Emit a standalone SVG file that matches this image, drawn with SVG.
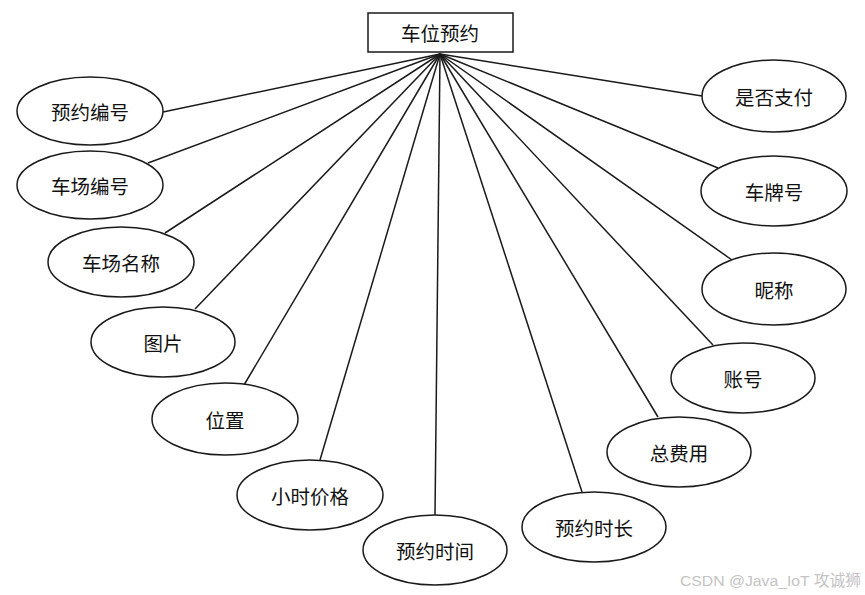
<svg xmlns="http://www.w3.org/2000/svg" width="865" height="595" viewBox="0 0 865 595">
<style>
.n{fill:#fff;stroke:#1a1a1a;stroke-width:1.5}
.t{font-family:"Noto Sans CJK SC","Noto Sans",sans-serif;font-size:19.5px;fill:#111;text-anchor:middle;dominant-baseline:central}
.c line{stroke:#1a1a1a;stroke-width:1.5}
.w{font-family:"Liberation Sans","Noto Sans CJK SC",sans-serif;font-size:15.5px;fill:#c4c4c4}
</style>
<rect width="865" height="595" fill="#fff"/>
<g class="c" id="connectors">
<line x1="440" y1="54" x2="163" y2="112"/>
<line x1="440" y1="54" x2="148" y2="163"/>
<line x1="440" y1="54" x2="165" y2="233"/>
<line x1="440" y1="54" x2="195" y2="309"/>
<line x1="440" y1="54" x2="244" y2="385"/>
<line x1="440" y1="54" x2="320" y2="460"/>
<line x1="440" y1="54" x2="435" y2="515"/>
<line x1="440" y1="54" x2="582" y2="492"/>
<line x1="440" y1="54" x2="658" y2="417"/>
<line x1="440" y1="54" x2="713" y2="345"/>
<line x1="440" y1="54" x2="732" y2="260"/>
<line x1="440" y1="54" x2="718" y2="168"/>
<line x1="440" y1="54" x2="702" y2="96"/>
</g>
<g id="entity"><rect class="n" x="368" y="13" width="145" height="39"/><text class="t" x="440" y="32">车位预约</text></g>
<g id="a1"><ellipse class="n" cx="90" cy="111" rx="73" ry="34"/><text class="t" x="90" y="111">预约编号</text></g>
<g id="a2"><ellipse class="n" cx="90" cy="185" rx="73" ry="34"/><text class="t" x="90" y="185">车场编号</text></g>
<g id="a3"><ellipse class="n" cx="121" cy="262" rx="73" ry="35"/><text class="t" x="121" y="262">车场名称</text></g>
<g id="a4"><ellipse class="n" cx="163" cy="342" rx="72" ry="35"/><text class="t" x="163" y="342">图片</text></g>
<g id="a5"><ellipse class="n" cx="225" cy="419" rx="73" ry="36"/><text class="t" x="225" y="419">位置</text></g>
<g id="a6"><ellipse class="n" cx="310" cy="495" rx="73" ry="35"/><text class="t" x="310" y="495">小时价格</text></g>
<g id="a7"><ellipse class="n" cx="435" cy="550" rx="72" ry="35"/><text class="t" x="435" y="550">预约时间</text></g>
<g id="a8"><ellipse class="n" cx="594" cy="527" rx="72" ry="35"/><text class="t" x="594" y="527">预约时长</text></g>
<g id="a9"><ellipse class="n" cx="679" cy="452" rx="72" ry="35"/><text class="t" x="679" y="452">总费用</text></g>
<g id="a10"><ellipse class="n" cx="743" cy="378" rx="72" ry="35"/><text class="t" x="743" y="378">账号</text></g>
<g id="a11"><ellipse class="n" cx="774" cy="289" rx="72" ry="36"/><text class="t" x="774" y="289">昵称</text></g>
<g id="a12"><ellipse class="n" cx="774" cy="191" rx="73" ry="35"/><text class="t" x="774" y="191">车牌号</text></g>
<g id="a13"><ellipse class="n" cx="774" cy="96" rx="72" ry="36"/><text class="t" x="774" y="96">是否支付</text></g>
<text class="w" x="680" y="586" textLength="181" lengthAdjust="spacingAndGlyphs">CSDN @Java_IoT 攻诚狮</text>
</svg>
